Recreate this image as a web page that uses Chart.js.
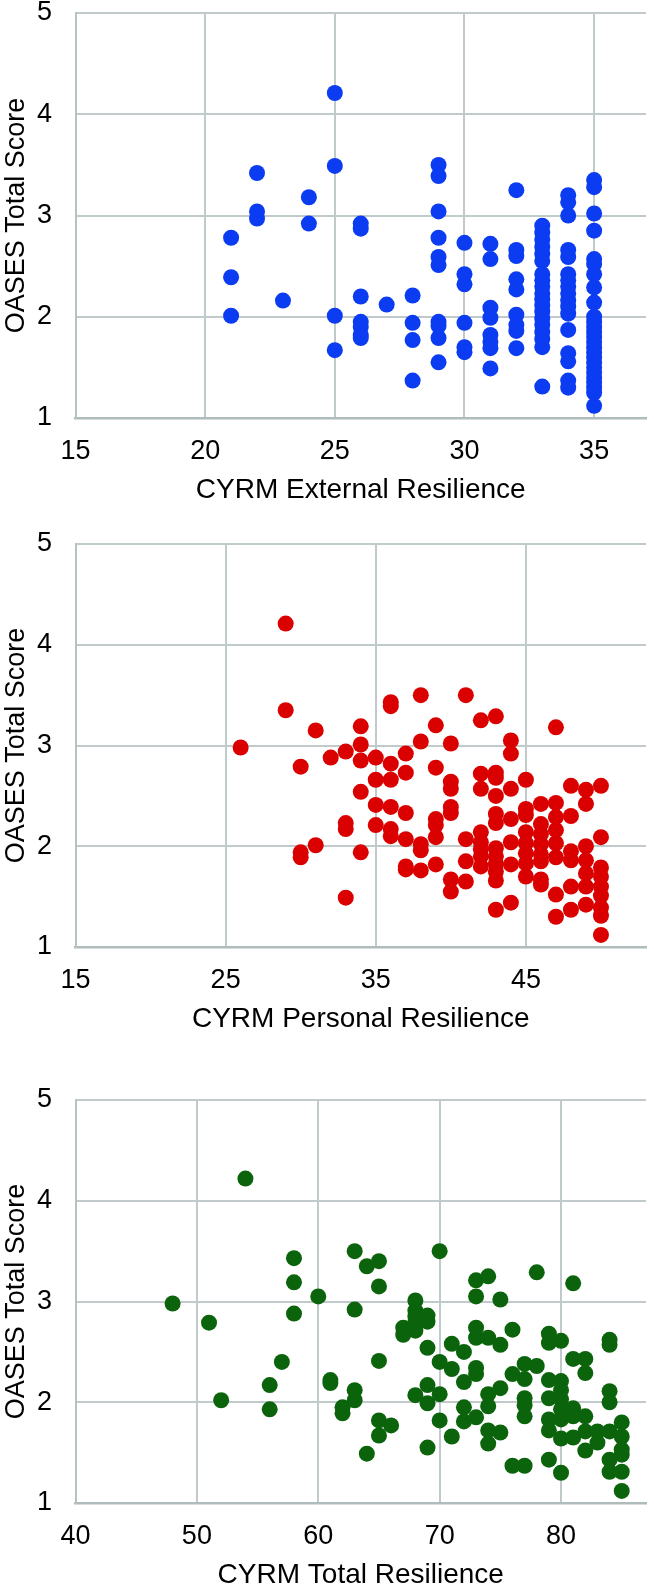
<!DOCTYPE html>
<html><head><meta charset="utf-8">
<script src="https://cdn.jsdelivr.net/npm/chart.js@4.4.1/dist/chart.umd.min.js"></script>
<style>
html,body{margin:0;padding:0;background:#fff;overflow:hidden;width:654px;height:1589px;position:relative}
canvas{position:absolute;left:0}
</style></head><body>
<canvas id="c1"></canvas><canvas id="c2"></canvas><canvas id="c3"></canvas>
<script>
// ---------- DATA ----------
const yTickValues = [1, 2, 3, 4, 5];
const yAxisTitle = 'OASES Total Score';

// Chart 1: CYRM External Resilience
const externalTicks = [15, 20, 25, 30, 35];
const externalScores = [21, 22, 23, 24, 25, 26, 27, 28, 29, 30, 31, 32, 33, 34, 35];
const externalOASES = [
  [2.78, 2.39, 2.01],
  [3.42, 3.04, 2.97],
  [2.16],
  [3.18, 2.92],
  [4.21, 3.49, 2.01, 1.67],
  [2.92, 2.87, 2.20, 1.95, 1.90, 1.82, 1.79],
  [2.12],
  [2.21, 1.94, 1.77, 1.37],
  [3.50, 3.39, 3.04, 2.78, 2.59, 2.51, 1.95, 1.91, 1.79, 1.55],
  [2.73, 2.42, 2.32, 1.94, 1.70, 1.65],
  [2.72, 2.57, 2.09, 1.99, 1.82, 1.75, 1.69, 1.49],
  [3.25, 2.66, 2.60, 2.37, 2.27, 2.02, 1.92, 1.86, 1.69],
  [2.90, 2.83, 2.76, 2.69, 2.62, 2.55, 2.42, 2.36, 2.30, 2.23, 2.17, 2.11, 2.05, 1.98, 1.92, 1.85, 1.78, 1.70, 1.31],
  [3.20, 3.13, 3.00, 2.66, 2.59, 2.42, 2.36, 2.30, 2.23, 2.16, 2.10, 2.03, 1.87, 1.64, 1.56, 1.37, 1.30],
  [3.35, 3.28, 3.02, 2.85, 2.57, 2.52, 2.42, 2.29, 2.14, 2.00, 1.95, 1.90, 1.85, 1.80, 1.75, 1.70, 1.65, 1.60, 1.55, 1.50, 1.45, 1.40, 1.35, 1.30, 1.25, 1.12]
];

// Chart 2: CYRM Personal Resilience
const personalTicks = [15, 25, 35, 45];
const personalScores = [26, 29, 30, 31, 32, 33, 34, 35, 36, 37, 38, 39, 40, 41, 42, 43, 44, 45, 46, 47, 48, 49, 50];
const personalOASES = [
  [2.98],
  [4.21, 3.35],
  [2.79, 1.94, 1.89],
  [3.15, 2.01],
  [2.88],
  [2.94, 2.23, 2.17, 1.49],
  [3.19, 3.01, 2.85, 2.54, 1.94],
  [2.88, 2.66, 2.41, 2.21],
  [3.43, 3.39, 2.82, 2.66, 2.39, 2.17, 2.10],
  [2.92, 2.73, 2.33, 2.07, 1.80, 1.77],
  [3.50, 3.04, 2.02, 1.96, 1.76],
  [3.20, 2.78, 2.27, 2.21, 2.09, 1.82],
  [3.02, 2.64, 2.57, 2.39, 2.33, 1.67, 1.55],
  [3.50, 2.07, 1.85, 1.65],
  [3.25, 2.72, 2.57, 2.14, 2.04, 1.97, 1.90, 1.80],
  [3.29, 2.73, 2.68, 2.50, 2.32, 2.23, 1.98, 1.90, 1.83, 1.75, 1.66, 1.37],
  [3.05, 2.92, 2.57, 2.27, 2.04, 1.82, 1.44],
  [2.66, 2.37, 2.31, 2.14, 2.03, 1.93, 1.83, 1.70],
  [2.42, 2.22, 2.12, 2.02, 1.92, 1.85, 1.67, 1.62],
  [3.18, 2.43, 2.29, 2.16, 2.03, 1.89, 1.52, 1.30],
  [2.60, 2.30, 1.95, 1.86, 1.60, 1.37],
  [2.56, 2.42, 2.00, 1.86, 1.73, 1.60, 1.42],
  [2.60, 2.09, 1.79, 1.70, 1.60, 1.51, 1.39, 1.31, 1.12]
];

// Chart 3: CYRM Total Resilience
const totalTicks = [40, 50, 60, 70, 80];
const totalScores = [48, 51, 52, 54, 56, 57, 58, 60, 61, 62, 63, 64, 65, 66, 67, 68, 69, 70, 71, 72, 73, 74, 75, 76, 77, 78, 79, 80, 81, 82, 83, 84, 85];
const totalOASES = [
  [2.98],
  [2.79],
  [2.02],
  [4.22],
  [2.17, 1.93],
  [2.40],
  [3.43, 3.19, 2.88],
  [3.05],
  [2.22, 2.19],
  [1.95, 1.89],
  [3.50, 2.92, 2.12, 2.02],
  [3.35, 1.49],
  [3.40, 3.15, 2.41, 1.82, 1.67],
  [1.77],
  [2.74, 2.67],
  [3.01, 2.91, 2.85, 2.79, 2.71, 2.07],
  [2.86, 2.80, 2.54, 2.17, 1.99, 1.55],
  [3.50, 2.40, 2.08, 1.82],
  [2.58, 2.33, 1.66],
  [2.50, 2.20, 1.95, 1.81],
  [3.21, 3.05, 2.74, 2.64, 2.34, 2.28, 1.85],
  [3.25, 2.64, 2.08, 1.96, 1.72, 1.59],
  [3.02, 2.57, 2.14, 1.70],
  [2.72, 2.28, 1.37],
  [2.38, 2.23, 2.04, 1.97, 1.86, 1.37],
  [3.29, 2.36],
  [2.68, 2.59, 2.22, 2.04, 1.83, 1.72, 1.43],
  [2.61, 2.21, 2.12, 2.03, 1.93, 1.83, 1.64, 1.30],
  [3.18, 2.43, 1.94, 1.86, 1.65],
  [2.43, 2.29, 1.86, 1.71, 1.52],
  [1.71, 1.60],
  [2.62, 2.57, 2.11, 2.00, 1.71, 1.43, 1.31],
  [1.80, 1.66, 1.53, 1.48, 1.31, 1.12]
];

// ---------- RENDER ----------
const FONT = "'Liberation Sans', Arial, Helvetica, sans-serif";
function toPoints(xs, ys) {
  const pts = [];
  xs.forEach((x, i) => ys[i].forEach(y => pts.push({x: x, y: y})));
  return pts;
}

function makeChart(id, opt) {
  const PADTOP = 44, XAXIS_H = 100;
  const cv = document.getElementById(id);
  const h = (opt.plotBottom - opt.plotTop) + PADTOP + XAXIS_H;
  cv.width = 654; cv.height = Math.round(h);
  cv.style.width = '654px'; cv.style.height = Math.round(h) + 'px';
  cv.style.top = (opt.plotTop - PADTOP) + 'px';
  const gridCol = '#c1caca';
  new Chart(cv, {
    type: 'scatter',
    data: {datasets: [{
      data: toPoints(opt.xs, opt.ys),
      backgroundColor: opt.color,
      borderWidth: 0,
      pointRadius: 8,
      pointHoverRadius: 8
    }]},
    options: {
      responsive: false,
      animation: false,
      devicePixelRatio: 1,
      layout: {padding: {top: PADTOP, left: 0, right: 0, bottom: 0}},
      plugins: {legend: {display: false}, tooltip: {enabled: false}},
      scales: {
        x: {
          type: 'linear', min: opt.xMin, max: opt.xMax,
          afterBuildTicks: s => { s.ticks = opt.xTicks.map(v => ({value: v})); },
          afterFit: s => { s.height = XAXIS_H; },
          grid: {color: gridCol, lineWidth: 2, drawTicks: false},
          border: {display: true, color: '#b0bbbb', width: 2.5},
          ticks: {padding: 17, color: '#000', font: {family: FONT, size: 27}, maxRotation: 0},
          title: {display: true, text: opt.xTitle, color: '#000', font: {family: FONT, size: 28}, padding: {top: 0, bottom: 11.2}}
        },
        y: {
          type: 'linear', min: 1, max: 5,
          afterBuildTicks: s => { s.ticks = yTickValues.map(v => ({value: v})); },
          afterFit: s => { s.width = 75.5; },
          grid: {color: gridCol, lineWidth: 2, drawTicks: false},
          border: {display: true, color: '#b8c2c2', width: 2},
          ticks: {padding: 23.5, color: '#000', font: {family: FONT, size: 27}},
          title: {display: true, text: yAxisTitle, color: '#000', font: {family: FONT, size: 27}, padding: {top: 0, bottom: 0}}
        }
      }
    }
  });
}

makeChart('c1', {plotTop: 13, plotBottom: 417.5, xs: externalScores, ys: externalOASES, xTicks: externalTicks,
  xMin: 15, xMax: 37, color: '#0b3cf2', xTitle: 'CYRM External Resilience'});
makeChart('c2', {plotTop: 544.3, plotBottom: 947.5, xs: personalScores, ys: personalOASES, xTicks: personalTicks,
  xMin: 15, xMax: 53, color: '#da0000', xTitle: 'CYRM Personal Resilience'});
makeChart('c3', {plotTop: 1100, plotBottom: 1503.3, xs: totalScores, ys: totalOASES, xTicks: totalTicks,
  xMin: 40, xMax: 87, color: '#0b640b', xTitle: 'CYRM Total Resilience'});
</script>
</body></html>
